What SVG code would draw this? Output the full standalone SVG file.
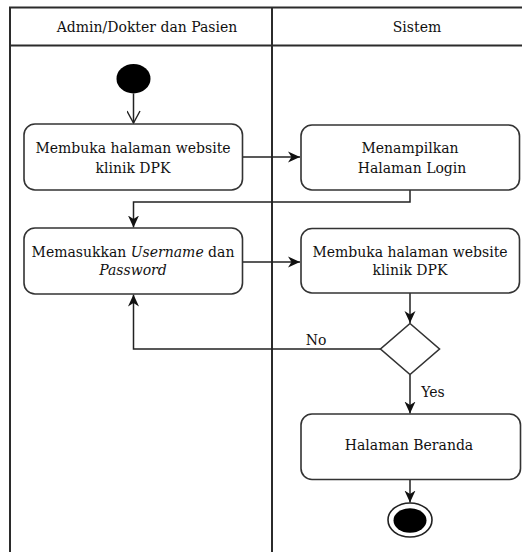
<svg xmlns="http://www.w3.org/2000/svg" width="522" height="552" viewBox="0 0 522 552">
<style>
.frame{fill:none;stroke:#2b2b2b;stroke-width:2}
.box{fill:#fff;stroke:#333;stroke-width:1.6}
.conn{fill:none;stroke:#222;stroke-width:1.5}
.t{font-family:'DejaVu Serif',serif;font-size:14px;fill:#111;text-anchor:middle}
.it{font-style:italic}
</style>
<defs>
<marker id="arr" viewBox="0 0 12 12" refX="12" refY="6" markerWidth="12" markerHeight="12" markerUnits="userSpaceOnUse" orient="auto">
<path d="M0,0.5 L12,6 L0,11.5 L3.5,6 z" fill="#111"/>
</marker>
<marker id="open" viewBox="0 0 14 14" refX="13" refY="7" markerWidth="14" markerHeight="14" markerUnits="userSpaceOnUse" orient="auto">
<path d="M1,0.5 L13,7 L1,13.5" fill="none" stroke="#222" stroke-width="1.4"/>
</marker>
</defs>
<rect width="522" height="552" fill="#fff"/>
<g id="swimlanes">
<path class="frame" d="M10,560 V7.5 H530 M10,45.5 H530 M272,7.5 V560"/>
<text class="t" x="147" y="32">Admin/Dokter dan Pasien</text>
<text class="t" x="417" y="32">Sistem</text>
</g>
<g id="connectors">
<path class="conn" d="M133.5,93.5 V123" marker-end="url(#open)"/>
<path class="conn" d="M242.5,157 H300" marker-end="url(#arr)"/>
<path class="conn" d="M410,190 V202 H133.5 V227.5" marker-end="url(#arr)"/>
<path class="conn" d="M242.5,262 H300" marker-end="url(#arr)"/>
<path class="conn" d="M410,293 V323" marker-end="url(#arr)"/>
<path class="conn" d="M381,349 H133.5 V294.5" marker-end="url(#arr)"/>
<path class="conn" d="M410,374.5 V413.5" marker-end="url(#arr)"/>
<path class="conn" d="M410,479.5 V502.5" marker-end="url(#arr)"/>
<text class="t" x="316" y="345">No</text>
<text class="t" x="433" y="397">Yes</text>
</g>
<g id="start">
<ellipse cx="133.5" cy="78.7" rx="17" ry="14.7" fill="#000"/>
</g>
<g id="n1">
<rect class="box" x="24" y="124" width="218.5" height="66" rx="11"/>
<text class="t" x="133" y="153">Membuka halaman website</text>
<text class="t" x="133" y="172.5">klinik DPK</text>
</g>
<g id="n2">
<rect class="box" x="301" y="125" width="218.5" height="65" rx="11"/>
<text class="t" x="410" y="153">Menampilkan</text>
<text class="t" x="412" y="173">Halaman Login</text>
</g>
<g id="n3">
<rect class="box" x="24" y="228" width="218.5" height="66" rx="11"/>
<text class="t" x="133" y="256.5">Memasukkan <tspan class="it">Username</tspan> dan</text>
<text class="t it" x="133" y="275">Password</text>
</g>
<g id="n4">
<rect class="box" x="301" y="228.5" width="218.5" height="64.5" rx="11"/>
<text class="t" x="410" y="256.5">Membuka halaman website</text>
<text class="t" x="410" y="275">klinik DPK</text>
</g>
<g id="decision">
<path d="M410,323.5 L439.5,349 L410,374.5 L380.5,349 z" fill="#fff" stroke="#333" stroke-width="1.6"/>
</g>
<g id="n5">
<rect class="box" x="301" y="414" width="219.5" height="65.5" rx="11"/>
<text class="t" x="409" y="450">Halaman Beranda</text>
</g>
<g id="end">
<ellipse cx="410" cy="520" rx="22" ry="17" fill="#fff" stroke="#222" stroke-width="1.6"/>
<ellipse cx="410" cy="520.5" rx="16.5" ry="12.2" fill="#000"/>
</g>
</svg>
